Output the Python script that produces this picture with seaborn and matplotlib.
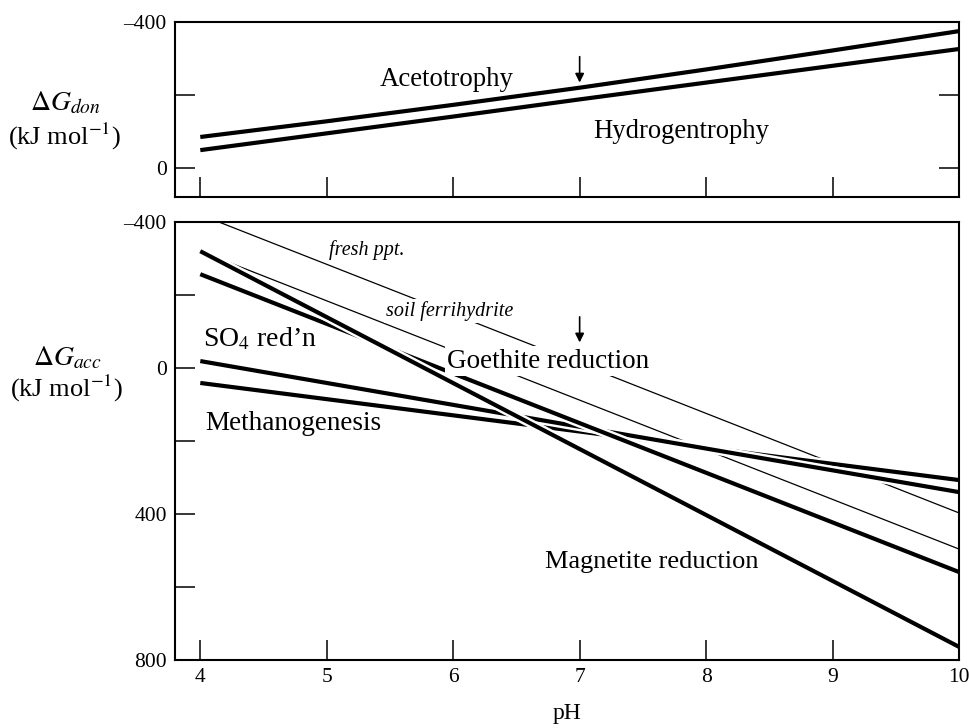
import matplotlib
matplotlib.use("Agg")
import matplotlib.pyplot as plt
import matplotlib.patheffects as pe
import numpy as np
import pandas as pd
import seaborn as sns

# ---- data -------------------------------------------------------------
# Electron donor reactions (kJ per mol), pH 4..10
ph_don = [4, 5, 6, 7, 8, 9, 10]
acetotrophy = [-85, -128, -173, -220, -270, -322, -375]
hydrogentrophy = [-49, -95, -141, -188, -234, -280, -326]

# Electron acceptor reactions (kJ per mol)
ph_acc = [4, 7, 10]
fresh_ppt = [-420, -12, 397]
soil_ferrihydrite = [-320, 88, 496]
goethite = [-257, 151, 559]
magnetite = [-320, 222, 764]
so4_redn = [-19, 161, 340]
methanogenesis = [41, 174, 307]

ph_ticks = [4, 5, 6, 7, 8, 9, 10]
ph_ticklabels = ["4", "5", "6", "7", "8", "9", "10"]
don_yticks = [-400, -200, 0]
don_yticklabels = ["\u2013400", "", "0"]
acc_yticks = [-400, -200, 0, 200, 400, 600, 800]
acc_yticklabels = ["\u2013400", "", "0", "", "400", "", "800"]

# ---- style ------------------------------------------------------------
sns.set_theme(style="ticks")
plt.rcParams["font.family"] = ["Liberation Serif", "DejaVu Serif"]
plt.rcParams["mathtext.fontset"] = "stix"
plt.rcParams["text.color"] = "black"
plt.rcParams["axes.labelcolor"] = "black"
plt.rcParams["xtick.color"] = "black"
plt.rcParams["ytick.color"] = "black"

W, H = 969, 728
fig = plt.figure(figsize=(W / 100, H / 100), dpi=100)
fig.patch.set_facecolor("white")

def frac_box(x0, y0, x1, y1):
    return [x0 / W, 1 - y1 / H, (x1 - x0) / W, (y1 - y0) / H]

ax_don = fig.add_axes(frac_box(175, 22, 959, 197))
ax_acc = fig.add_axes(frac_box(175, 222, 959, 660))

THICK = 3.0
THIN = 0.9

def draw(ax, x, y, lw, z):
    df = pd.DataFrame({"pH": x, "dG": y})
    sns.lineplot(data=df, x="pH", y="dG", ax=ax, color="black", lw=lw,
                 sort=False, estimator=None, zorder=z,
                 solid_capstyle="butt",
                 path_effects=[pe.Stroke(linewidth=lw + 3.5, foreground="white"),
                               pe.Normal()])

# ---- top panel: donors --------------------------------------------------
draw(ax_don, ph_don, acetotrophy, THICK, 2)
draw(ax_don, ph_don, hydrogentrophy, THICK, 2)

ax_don.set_xlim(3.8, 10)
ax_don.set_ylim(79.4, -400)
ax_don.set_xticks(ph_ticks)
ax_don.set_xticklabels([])
ax_don.set_yticks(don_yticks)
ax_don.set_yticklabels(don_yticklabels)
ax_don.tick_params(axis="both", direction="in", length=14.5, width=1.1,
                   labelsize=15.5, pad=6, colors="black")
ax_don.tick_params(axis="y", right=True)
ax_don.set_xlabel("")
ax_don.set_ylabel("")

ax_don.text(5.945, -243, "Acetotrophy", ha="center", va="center", fontsize=19.3)
ax_don.text(7.80, -100, "Hydrogentrophy", ha="center", va="center", fontsize=19.2)
ax_don.annotate("", xy=(7.0, -234), xytext=(7.0, -305),
                arrowprops=dict(arrowstyle="-|>", color="black", lw=1.2,
                                mutation_scale=13, shrinkA=0, shrinkB=0))

# ---- bottom panel: acceptors -------------------------------------------
draw(ax_acc, ph_acc, fresh_ppt, THIN, 2)
draw(ax_acc, ph_acc, soil_ferrihydrite, THIN, 2)
draw(ax_acc, ph_acc, methanogenesis, THICK, 3)
draw(ax_acc, ph_acc, so4_redn, THICK, 3)
draw(ax_acc, ph_acc, goethite, THICK, 3)
draw(ax_acc, ph_acc, magnetite, THICK, 3)

ax_acc.set_xlim(3.8, 10)
ax_acc.set_ylim(800, -400)
ax_acc.set_xticks(ph_ticks)
ax_acc.set_xticklabels(ph_ticklabels)
ax_acc.set_yticks(acc_yticks)
ax_acc.set_yticklabels(acc_yticklabels)
ax_acc.tick_params(axis="both", direction="in", length=14.5, width=1.1,
                   labelsize=15.5, pad=6, colors="black")
ax_acc.set_xlabel("pH", fontsize=17, labelpad=11)
ax_acc.set_ylabel("")

white_box = dict(facecolor="white", edgecolor="none", pad=1.5)
ax_acc.text(5.32, -322, "fresh ppt.", ha="center", va="center",
            fontsize=14.5, style="italic", zorder=5)
ax_acc.text(5.97, -156, "soil ferrihydrite", ha="center", va="center",
            fontsize=14.5, style="italic", bbox=white_box, zorder=5)
ax_acc.text(6.75, -19, "Goethite reduction", ha="center", va="center",
            fontsize=19.5, bbox=white_box, zorder=5)
ax_acc.text(4.02, -80, "SO$_4$ red\u2019n", ha="left", va="center",
            fontsize=20, zorder=5)
ax_acc.text(4.04, 153, "Methanogenesis", ha="left", va="center",
            fontsize=19.5, zorder=5)
ax_acc.text(7.57, 532, "Magnetite reduction", ha="center", va="center",
            fontsize=19, zorder=5)
ax_acc.annotate("", xy=(7.0, -70), xytext=(7.0, -140),
                arrowprops=dict(arrowstyle="-|>", color="black", lw=1.2,
                                mutation_scale=13, shrinkA=0, shrinkB=0))

for ax in (ax_don, ax_acc):
    for s in ax.spines.values():
        s.set_visible(True)
        s.set_linewidth(1.5)
        s.set_color("black")
        s.set_zorder(4)

# ---- y-axis titles --------------------------------------------------------
fig.text(65 / W, 1 - 110 / H, r"$\Delta G_{don}$", ha="center", va="baseline",
         fontsize=20)
fig.text(64 / W, 1 - 145 / H, r"(kJ mol$^{-1}$)", ha="center",
         va="baseline", fontsize=19)
fig.text(67 / W, 1 - 365 / H, r"$\Delta G_{acc}$", ha="center", va="baseline",
         fontsize=20)
fig.text(66 / W, 1 - 397 / H, r"(kJ mol$^{-1}$)", ha="center",
         va="baseline", fontsize=19)

fig.savefig("out.png", dpi=100, facecolor="white")
